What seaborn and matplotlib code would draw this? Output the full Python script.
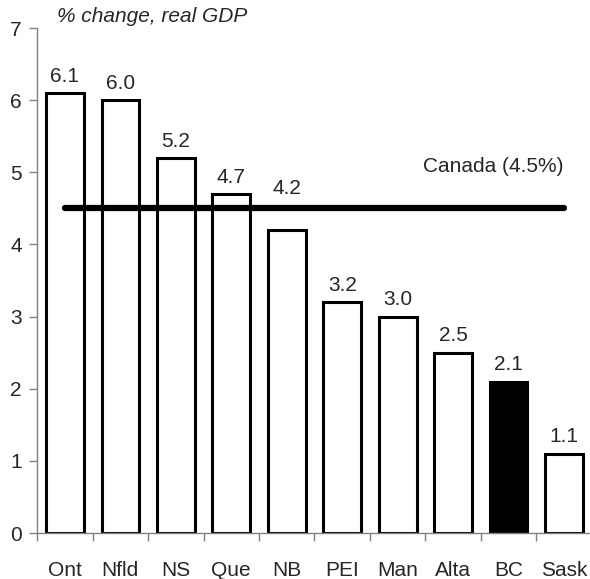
import numpy as np
import pandas as pd
import matplotlib
matplotlib.use("Agg")
import matplotlib.pyplot as plt
import seaborn as sns

# Data
provinces = ["Ont", "Nfld", "NS", "Que", "NB", "PEI", "Man", "Alta", "BC", "Sask"]
growth = [6.1, 6.0, 5.2, 4.7, 4.2, 3.2, 3.0, 2.5, 2.1, 1.1]
canada = 4.5

df = pd.DataFrame({"province": provinces, "growth": growth})

sns.set_style("white")
plt.rcParams["font.family"] = ["Liberation Sans", "DejaVu Sans"]
fs = 15

fig = plt.figure(figsize=(5.9, 5.79), dpi=100)
ax = fig.add_axes([0.063, 0.0794, 0.94, 0.8722])

colors = ["black" if p == "BC" else "white" for p in provinces]
sns.barplot(data=df, x="province", y="growth", hue="province", palette=colors,
            legend=False, width=0.68, edgecolor="black", linewidth=2.2, ax=ax)

# value labels (NB label sits above the Canada line)
for i, v in enumerate(growth):
    y = v + 0.1
    if provinces[i] == "NB":
        y = canada + 0.15
    ax.text(i, y, f"{v:.1f}", ha="center", va="bottom", fontsize=fs)

# Canada average line
ax.plot([0, len(provinces) - 1], [canada, canada], color="black", lw=4.5,
        solid_capstyle="round")
ax.text(7.73, canada + 0.45, "Canada (4.5%)", ha="center",
        va="bottom", fontsize=fs)

ax.set_xlim(-0.5, len(provinces) - 0.5)
ax.set_ylim(0, 7)
ax.set_yticks(range(0, 8))
ax.set_xlabel("")
ax.set_ylabel("")

for s in ["top", "right"]:
    ax.spines[s].set_visible(False)
for s in ["left", "bottom"]:
    ax.spines[s].set_color("#808080")
    ax.spines[s].set_linewidth(1)

ax.tick_params(axis="y", direction="out", length=6, width=1, color="#808080",
               labelsize=fs, pad=5, left=True)
ax.tick_params(axis="x", which="major", length=0, labelsize=fs, pad=20)
ax.set_xticks(np.arange(-0.5, len(provinces), 1), minor=True)
ax.tick_params(axis="x", which="minor", direction="out", length=6, width=1,
               color="#808080", bottom=True)

fig.text(0.097, 0.988, "% change, real GDP", fontsize=fs, style="italic",
         ha="left", va="top")

fig.savefig("out.png", dpi=100)
